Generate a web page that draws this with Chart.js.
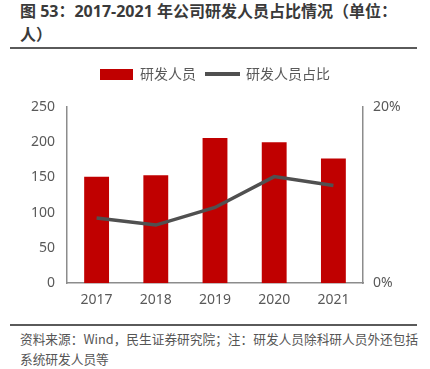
<!DOCTYPE html>
<html>
<head>
<meta charset="utf-8">
<script src="https://cdn.jsdelivr.net/npm/chart.js@4/dist/chart.umd.min.js"></script>
<style>
  body { margin: 0; background: #fff; width: 430px; height: 369px; position: relative; overflow: hidden;
         font-family: "Noto Sans CJK SC", "Noto Sans", sans-serif; }
  .title { position: absolute; left: 20px; top: 0px; font-size: 16px; font-weight: bold; color: #3a3a3a; line-height: 23px;
           font-family: "Open Sans", "Noto Sans CJK SC", sans-serif; }
  .rule { position: absolute; left: 10px; width: 407px; height: 2px; background: #5a5a5a; }
  .note { position: absolute; left: 20px; top: 329px; font-size: 12.7px; color: #555; line-height: 20px; }
  #wrap { position: absolute; left: 0; top: 55px; width: 430px; height: 261px; }
</style>
</head>
<body>
<div class="title">图 53：2017-2021 年公司研发人员占比情况（单位：<br>人）</div>
<div class="rule" style="top:47px"></div>
<div id="wrap"><canvas id="chart"></canvas></div>
<div class="rule" style="top:324px"></div>
<div class="note">资料来源：Wind，民生证券研究院；注：研发人员除科研人员外还包括<br>系统研发人员等</div>
<script>
const years = ['2017', '2018', '2019', '2020', '2021'];
const staff = [151, 153, 206, 200, 177];
const staffShare = [7.4, 6.6, 8.6, 12.1, 11.1];
const leftTicks = [0, 50, 100, 150, 200, 250];
const rightTicks = [0, 20];

const BAR = '#c00000';
const LINE = '#505050';
const TEXT = '#595959';
const AXIS = '#8c8c8c';

// legend swatches
function swatch(w, h, color) {
  const c = document.createElement('canvas');
  c.width = w; c.height = h;
  const g = c.getContext('2d');
  g.fillStyle = color;
  g.fillRect(0, 0, w, h);
  return c;
}
const barSwatch = swatch(33, 11, BAR);
const lineSwatch = swatch(35, 4, LINE);

// extra room under the legend
const legendGap = {
  id: 'legendGap',
  beforeInit(chart) {
    const fit = chart.legend.fit;
    chart.legend.fit = function () {
      fit.call(this);
      this.height += 16;
    };
  }
};

const tickFont = { family: '"Noto Sans", "Noto Sans CJK SC", sans-serif', size: 14 };

new Chart(document.getElementById('chart'), {
  data: {
    labels: years,
    datasets: [
      {
        type: 'line',
        label: '研发人员占比',
        data: staffShare,
        yAxisID: 'y1',
        borderColor: LINE,
        backgroundColor: LINE,
        borderWidth: 3.5,
        tension: 0,
        pointRadius: 0,
        pointStyle: lineSwatch,
        order: 0
      },
      {
        type: 'bar',
        label: '研发人员',
        data: staff,
        yAxisID: 'y',
        backgroundColor: BAR,
        categoryPercentage: 1,
        barPercentage: 0.42,
        pointStyle: barSwatch,
        order: 1
      }
    ]
  },
  options: {
    responsive: true,
    maintainAspectRatio: false,
    animation: false,
    layout: { padding: { top: 2, bottom: 0, left: 0, right: 0 } },
    plugins: {
      legend: {
        position: 'top',
        reverse: true,
        labels: {
          usePointStyle: true,
          pointStyleWidth: 33,
          boxHeight: 11,
          padding: 10,
          color: TEXT,
          font: { family: '"Noto Sans CJK SC", sans-serif', size: 14 }
        }
      },
      tooltip: { enabled: false }
    },
    scales: {
      x: {
        grid: { display: false, drawTicks: false },
        border: { color: AXIS, width: 1.5 },
        ticks: { color: TEXT, font: tickFont, padding: 8 }
      },
      y: {
        position: 'left',
        min: 0,
        max: 250,
        afterBuildTicks: axis => { axis.ticks = leftTicks.map(v => ({ value: v })); },
        afterFit: axis => { axis.width = 67; },
        grid: { display: false, drawTicks: false },
        border: { color: AXIS, width: 1.5 },
        ticks: { color: TEXT, font: tickFont, padding: 12 }
      },
      y1: {
        position: 'right',
        min: 0,
        max: 20,
        afterBuildTicks: axis => { axis.ticks = rightTicks.map(v => ({ value: v })); },
        afterFit: axis => { axis.width = 67; },
        grid: { display: false, drawTicks: false },
        border: { color: AXIS, width: 1.5 },
        ticks: {
          color: TEXT,
          font: tickFont,
          padding: 10,
          callback: v => v + '%'
        }
      }
    }
  },
  plugins: [legendGap]
});
</script>
</body>
</html>
